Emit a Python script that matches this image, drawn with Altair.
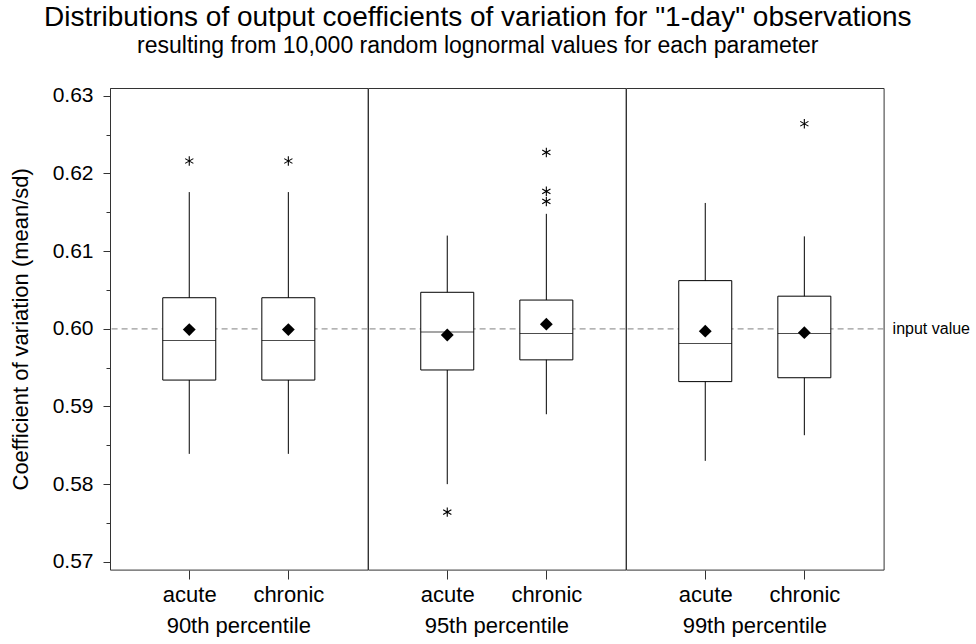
import altair as alt
import pandas as pd

# ---- data ----
PANELS = ["90th percentile", "95th percentile", "99th percentile"]
TYPES = ["acute", "chronic"]
GROUP_PANEL = ["90th percentile", "90th percentile", "95th percentile", "95th percentile",
               "99th percentile", "99th percentile"]
GROUP_TYPE = ["acute", "chronic", "acute", "chronic", "acute", "chronic"]
WHISKER_LOW = [0.5839, 0.5839, 0.5800, 0.5890, 0.5830, 0.5863]
Q1 = [0.5934, 0.5934, 0.5947, 0.5960, 0.5932, 0.5937]
MEDIAN = [0.5985, 0.5985, 0.5996, 0.5994, 0.5981, 0.5994]
MEAN = [0.5999, 0.5999, 0.5992, 0.6006, 0.5997, 0.5995]
Q3 = [0.6040, 0.6040, 0.6047, 0.6037, 0.6062, 0.6042]
WHISKER_HIGH = [0.6176, 0.6176, 0.6120, 0.6148, 0.6162, 0.6119]
OUTLIERS = [[0.6216], [0.6216], [0.5764], [0.6227, 0.6177, 0.6164], [], [0.6264]]
INPUT_VALUE = 0.60
Y_TICKS = [0.57, 0.575, 0.58, 0.585, 0.59, 0.595, 0.60, 0.605, 0.61, 0.615, 0.62, 0.625, 0.63]

rows = []
for i in range(len(GROUP_PANEL)):
    rows.append(dict(panel=GROUP_PANEL[i], type=GROUP_TYPE[i], low=WHISKER_LOW[i], q1=Q1[i],
                     median=MEDIAN[i], mean=MEAN[i], q3=Q3[i], high=WHISKER_HIGH[i],
                     outlier=None))
    for o in OUTLIERS[i]:
        rows.append(dict(panel=GROUP_PANEL[i], type=GROUP_TYPE[i], outlier=o))
df = pd.DataFrame(rows)

FONT = "Liberation Sans"
W = 257.6
H = 481.6

yscale = alt.Scale(domain=[0.569, 0.631], nice=False, zero=False)
yaxis = alt.Axis(
    title="Coefficient of variation (mean/sd)",
    values=Y_TICKS,
    labelExpr="round(datum.value*1000) % 10 == 0 ? format(datum.value, '.2f') : ''",
    tickSize={"condition": {"test": "round(datum.value*1000) % 10 != 0", "value": 4}, "value": 7},
    labelPadding=10,
    labelFontSize=21,
    titleFontSize=22,
    titlePadding=20,
    grid=False,
    domainColor="#333333",
    tickColor="#333333",
)
xenc = alt.X("type:N", sort=TYPES,
             scale=alt.Scale(type="point", padding=0.8),
             axis=alt.Axis(title=None, labelAngle=0, domain=False, tickSize=9,
                           labelFontSize=22, labelPadding=5, tickColor="#333333"))

base = alt.Chart()
stats = base.transform_filter("isValid(datum.q1)")

ref_line = stats.transform_filter("datum.type == 'acute'").mark_rule(
    strokeDash=[6, 4], color="#9a9a9a", strokeWidth=1.2
).encode(y=alt.datum(INPUT_VALUE, scale=yscale, axis=yaxis))

whisker = stats.mark_rule(color="black", strokeWidth=1).encode(
    x=xenc, y=alt.Y("low:Q", scale=yscale, axis=yaxis), y2="high:Q")

box = stats.mark_bar(size=53, fill="white", stroke="black", strokeWidth=1).encode(
    x=xenc, y=alt.Y("q1:Q", scale=yscale, axis=yaxis), y2="q3:Q")

median = stats.mark_tick(size=53, thickness=1, color="black").encode(
    x=xenc, y=alt.Y("median:Q", scale=yscale, axis=yaxis))

mean = stats.mark_point(shape="diamond", filled=True, color="black", size=165, opacity=1).encode(
    x=xenc, y=alt.Y("mean:Q", scale=yscale, axis=yaxis))

outl = base.transform_filter("isValid(datum.outlier)").mark_point(
    shape="M0,-1L0,1M-0.866,-0.5L0.866,0.5M-0.866,0.5L0.866,-0.5",
    filled=False, color="black", strokeWidth=1.1, size=90, opacity=1
).encode(x=xenc, y=alt.Y("outlier:Q", scale=yscale, axis=yaxis))

label = stats.transform_filter(
    "datum.type == 'acute' && datum.panel == '99th percentile'"
).mark_text(align="left", baseline="middle", fontSize=16, font=FONT, color="black").encode(
    x=alt.value(W + 9), y=alt.datum(INPUT_VALUE, scale=yscale, axis=yaxis),
    text=alt.value("input value"))

layered = alt.layer(ref_line, whisker, box, median, mean, outl, label, data=df).properties(
    width=W, height=H)

chart = layered.facet(
    column=alt.Column("panel:N", sort=PANELS,
                      header=alt.Header(labelOrient="bottom", title=None, labelFontSize=22,
                                        labelFont=FONT, labelColor="black", labelPadding=11)),
    spacing=0,
    bounds="flush",
).properties(
    title=alt.Title(
        text='Distributions of output coefficients of variation for "1-day" observations',
        subtitle="resulting from 10,000 random lognormal values for each parameter",
        anchor="middle", font=FONT, fontSize=28, fontWeight="normal", color="black",
        subtitleFont=FONT, subtitleFontSize=23, subtitleColor="black", subtitlePadding=3,
        offset=27, dx=-12,
    ),
    padding={"left": 9, "top": 3, "right": 0, "bottom": 0},
).configure_view(
    stroke="#333333", strokeWidth=1
).configure_axis(
    labelFont=FONT, titleFont=FONT, labelColor="black", titleColor="black",
    titleFontWeight="normal",
)

chart.save("out.html", embed_options={"renderer": "svg", "actions": False})
